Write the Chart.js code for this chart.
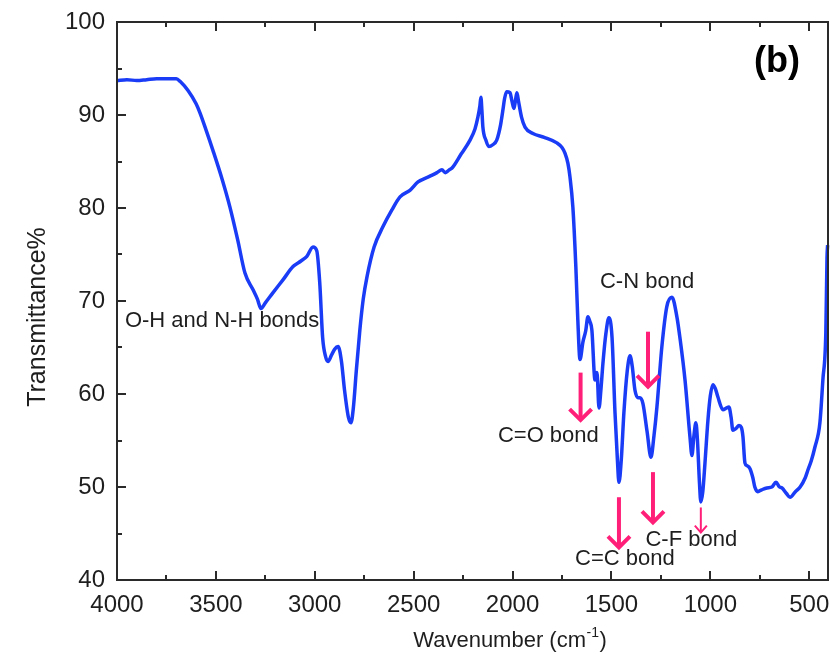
<!DOCTYPE html>
<html>
<head>
<meta charset="utf-8">
<script src="https://cdn.jsdelivr.net/npm/chart.js@4.4.1/dist/chart.umd.min.js"></script>
<style>
  html, body { margin: 0; padding: 0; background: #ffffff; }
  #wrap { width: 830px; height: 662px; }
</style>
</head>
<body>
<div id="wrap"><canvas id="c" width="830" height="662"></canvas></div>
<script>
// ---- Data ----
const wavenumbers = [4000,3950,3900,3850,3800,3750,3700,3680,3640,3600,3580,3550,3515,3470,3429,3390,3353,3312,3290,3272,3250,3211,3160,3110,3070,3040,3009,2990,2975,2960,2945,2933,2915,2900,2882,2865,2850,2830,2817,2805,2790,2772,2755,2736,2700,2655,2610,2569,2519,2478,2420,2382,2357,2340,2320,2306,2260,2215,2190,2175,2165,2160,2155,2150,2135,2120,2100,2080,2060,2049,2040,2030,2013,2003,1993,1985,1978,1970,1955,1937,1897,1840,1776,1750,1735,1720,1710,1695,1680,1670,1659,1644,1630,1619,1609,1599,1583,1573,1563,1553,1543,1528,1513,1497,1482,1470,1462,1450,1437,1420,1406,1395,1381,1366,1356,1341,1320,1300,1285,1270,1245,1220,1194,1169,1154,1128,1103,1093,1083,1073,1065,1055,1048,1038,1027,1012,1000,987,975,962,936,918,906,895,886,870,855,843,835,825,815,800,785,775,760,740,714,689,668,650,638,615,597,570,546,520,507,490,471,446,431,416,410,407];
const transmittance = [93.7,93.8,93.7,93.8,93.9,93.9,93.9,93.6,92.6,91.2,90.2,88.4,86.2,83.2,80.1,76.6,73.0,71.2,70.2,69.2,69.8,70.9,72.3,73.7,74.3,74.8,75.8,75.4,72.0,66.0,64.0,63.5,64.2,64.8,65.1,63.5,60.5,57.5,56.9,58.5,62.5,66.9,70.2,72.6,75.8,78.0,79.8,81.2,81.9,82.8,83.4,83.8,84.1,83.8,84.1,84.3,85.8,87.3,88.5,89.8,91.0,91.9,90.5,88.7,87.3,86.6,86.8,87.3,89.0,90.5,91.8,92.5,92.4,91.5,90.7,91.6,92.4,91.5,89.8,88.7,88.0,87.6,87.0,86.5,85.9,84.8,83.4,80.1,73.7,68.0,63.7,65.6,66.8,68.3,67.8,66.9,61.5,62.3,58.5,60.5,63.3,66.5,68.2,66.1,58.0,53.0,50.5,53.0,58.0,62.5,64.1,63.0,60.4,59.6,59.6,59.0,56.0,53.2,55.5,58.6,65.1,69.4,70.4,68.3,66.1,61.5,55.4,53.4,55.5,56.9,55.0,50.5,48.4,49.5,52.6,57.2,59.8,61.0,60.6,59.7,58.3,58.5,58.6,57.5,56.1,56.3,56.6,56.4,55.4,52.6,52.3,52.0,51.0,50.0,49.5,49.7,49.9,50.0,50.5,50.0,49.9,49.3,48.9,49.5,50.0,51.0,51.8,52.8,54.3,56.9,61.5,66.6,74.7,76.0];

const xTickLabels = [4000,3500,3000,2500,2000,1500,1000,500];
const xMinorTicks = [3750,3250,2750,2250,1750,1250,750];
const yTickLabels = [40,50,60,70,80,90,100];
const yMinorTicks = [45,55,65,75,85,95];

const xAxisTitle = 'Wavenumber (cm';
const xAxisTitleSup = '-1';
const yAxisTitle = 'Transmittance%';
const panelLabel = '(b)';
const panelLabelPos = [663, 95.7];

const annotTexts = ['O-H and N-H bonds','C=O bond','C-N bond','C=C bond','C-F bond'];
const annotX = [3960, 1819, 1320, 1432, 1096];
const annotY = [67.85, 55.5, 72.0, 42.26, 44.3];

const arrowX = [1656, 1315, 1462, 1290, 1048];
const arrowFrom = [62.3, 66.7, 48.9, 51.6, 47.8];
const arrowTo = [57.2, 60.8, 43.5, 46.2, 45.1];

// ---- build ----
const points = wavenumbers.map((w, i) => ({x: w, y: transmittance[i]}));
const FONT = '"Liberation Sans", Arial, Helvetica, sans-serif';
const TEXT = '#1e1e1e';
const FRAME = '#2a2a2a';
const PINK = '#ff1f78';

const decorPlugin = {
  id: 'decor',
  afterDatasetsDraw(chart) {
    const ctx = chart.ctx;
    const a = chart.chartArea;
    const xs = chart.scales.x, ys = chart.scales.y;
    ctx.save();
    // frame
    ctx.strokeStyle = FRAME;
    ctx.lineWidth = 2;
    ctx.strokeRect(a.left, a.top, a.right - a.left, a.bottom - a.top);
    // ticks (inward)
    ctx.lineWidth = 2;
    ctx.beginPath();
    xTickLabels.forEach(v => {
      const px = Math.round(xs.getPixelForValue(v));
      ctx.moveTo(px, a.bottom); ctx.lineTo(px, a.bottom - 9);
      ctx.moveTo(px, a.top); ctx.lineTo(px, a.top + 9);
    });
    xMinorTicks.forEach(v => {
      const px = Math.round(xs.getPixelForValue(v));
      ctx.moveTo(px, a.bottom); ctx.lineTo(px, a.bottom - 5);
      ctx.moveTo(px, a.top); ctx.lineTo(px, a.top + 5);
    });
    yTickLabels.forEach(v => {
      const py = Math.round(ys.getPixelForValue(v));
      ctx.moveTo(a.left, py); ctx.lineTo(a.left + 9, py);
    });
    yMinorTicks.forEach(v => {
      const py = Math.round(ys.getPixelForValue(v));
      ctx.moveTo(a.left, py); ctx.lineTo(a.left + 5, py);
    });
    ctx.stroke();

    // arrows
    ctx.strokeStyle = PINK;
    ctx.lineCap = 'butt';
    ctx.lineJoin = 'miter';
    arrowX.forEach((w, i) => {
      const thin = i === arrowX.length - 1;
      const px = xs.getPixelForValue(w);
      const y1 = ys.getPixelForValue(arrowFrom[i]);
      const y2 = ys.getPixelForValue(arrowTo[i]);
      const hw = thin ? 6 : 11, hl = thin ? 7 : 11;
      ctx.lineWidth = thin ? 2 : 4;
      ctx.beginPath();
      ctx.moveTo(px, y1); ctx.lineTo(px, y2 - 1);
      ctx.stroke();
      ctx.beginPath();
      ctx.moveTo(px - hw, y2 - hl); ctx.lineTo(px, y2); ctx.lineTo(px + hw, y2 - hl);
      ctx.stroke();
    });

    // annotations
    ctx.fillStyle = TEXT;
    ctx.font = '22px ' + FONT;
    ctx.textBaseline = 'middle';
    annotTexts.forEach((t, i) => {
      ctx.textAlign = i === 0 ? 'left' : 'center';
      ctx.fillText(t, xs.getPixelForValue(annotX[i]), ys.getPixelForValue(annotY[i]));
    });

    // panel label
    ctx.font = 'bold 36px ' + FONT;
    ctx.textAlign = 'center';
    ctx.fillStyle = '#000';
    ctx.fillText(panelLabel, xs.getPixelForValue(panelLabelPos[0]), ys.getPixelForValue(panelLabelPos[1]));

    // axis titles
    ctx.fillStyle = TEXT;
    const mainFont = '22px ' + FONT, supFont = '14px ' + FONT;
    ctx.font = mainFont;
    const w1 = ctx.measureText(xAxisTitle).width;
    const w3 = ctx.measureText(')').width;
    ctx.font = supFont;
    const w2 = ctx.measureText(xAxisTitleSup).width;
    const cx = (a.left + a.right) / 2 + 37;
    const ty = 641;
    let sx = cx - (w1 + w2 + w3) / 2;
    ctx.textAlign = 'left';
    ctx.textBaseline = 'middle';
    ctx.font = mainFont;
    ctx.fillText(xAxisTitle, sx, ty);
    ctx.font = supFont;
    ctx.fillText(xAxisTitleSup, sx + w1 + 0.5, ty - 8);
    ctx.font = mainFont;
    ctx.fillText(')', sx + w1 + w2 + 1, ty);

    ctx.save();
    ctx.translate(38, (a.top + a.bottom) / 2 + 16);
    ctx.rotate(-Math.PI / 2);
    ctx.font = '25px ' + FONT;
    ctx.textAlign = 'center';
    ctx.textBaseline = 'middle';
    ctx.fillText(yAxisTitle, 0, 0);
    ctx.restore();

    ctx.restore();
  }
};

new Chart(document.getElementById('c'), {
  type: 'line',
  data: {
    datasets: [{
      data: points,
      borderColor: '#1a3cf6',
      borderWidth: 3.5,
      pointRadius: 0,
      fill: false,
      cubicInterpolationMode: 'monotone',
      clip: 2
    }]
  },
  options: {
    responsive: false,
    animation: false,
    devicePixelRatio: 1,
    layout: { padding: { top: 22, right: 2, left: 0, bottom: 0 } },
    plugins: { legend: { display: false }, tooltip: { enabled: false }, title: { display: false } },
    scales: {
      x: {
        type: 'linear',
        reverse: true,
        min: 405,
        max: 4000,
        grid: { display: false },
        border: { display: false },
        afterBuildTicks(scale) { scale.ticks = xTickLabels.map(v => ({value: v})); },
        afterFit(scale) { scale.height = 82; scale.paddingLeft = 0; scale.paddingRight = 0; },
        ticks: {
          color: TEXT,
          font: { family: FONT, size: 24 },
          padding: 3,
          maxRotation: 0,
          autoSkip: false,
          callback: v => String(v)
        }
      },
      y: {
        type: 'linear',
        min: 40,
        max: 100,
        grid: { display: false },
        border: { display: false },
        afterBuildTicks(scale) { scale.ticks = yTickLabels.map(v => ({value: v})); },
        afterFit(scale) { scale.width = 117; scale.paddingTop = 0; scale.paddingBottom = 0; },
        ticks: {
          color: TEXT,
          font: { family: FONT, size: 24 },
          padding: 4,
          callback: v => String(v)
        }
      }
    }
  },
  plugins: [decorPlugin]
});
</script>
</body>
</html>
